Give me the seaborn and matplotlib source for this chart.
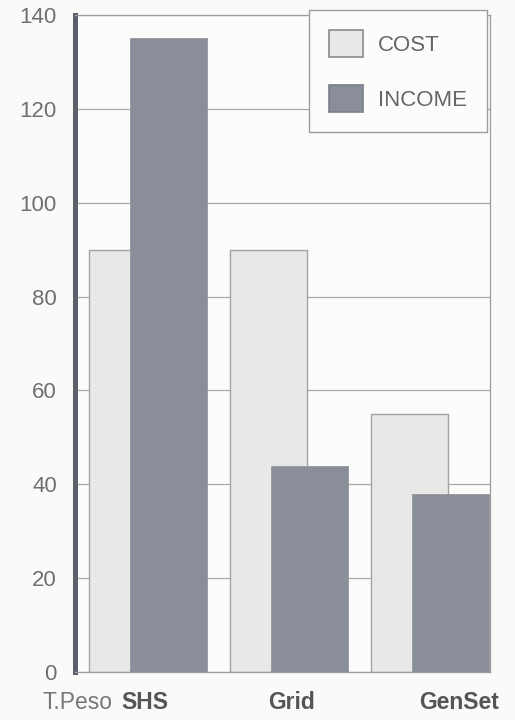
import matplotlib
matplotlib.use("Agg")
import matplotlib.pyplot as plt
import seaborn as sns
import numpy as np
import pandas as pd
from matplotlib.patches import Patch
from matplotlib.transforms import blended_transform_factory

# ---- data ----
categories = ["SHS", "Grid", "GenSet"]
category_prefix = ["T.Peso", "", ""]
cost = [90, 90, 55]
income = [135, 44, 38]
series_names = ["COST", "INCOME"]
y_ticks = [0, 20, 40, 60, 80, 100, 120, 140]

# ---- layout / style ----
cost_offset, income_offset, bar_width = -0.145, 0.145, 0.55
label_x = [-0.02, 1.02, 2.205]
prefix_right_x = -0.255
cost_color, cost_edge = "#e8e8e7", "#a3a3a3"
income_color = "#8a8e99"

sns.set_theme(style="white")
plt.rcParams['font.family'] = ['Liberation Sans', 'DejaVu Sans']

fig = plt.figure(figsize=(5.15, 7.2), dpi=100)
fig.patch.set_facecolor('#fafaf8')
ax = fig.add_axes([75/515, 1-672/720, (490-75)/515, (672-15)/720])
ax.set_facecolor('#fcfcfb')

idx = np.arange(len(categories))
dfc = pd.DataFrame({"pos": idx + cost_offset, "value": cost})
dfi = pd.DataFrame({"pos": idx + income_offset, "value": income})

sns.barplot(data=dfc, x="pos", y="value", native_scale=True, orient="x",
            width=bar_width, color=cost_color, saturation=1, errorbar=None,
            edgecolor=cost_edge, linewidth=1.0, ax=ax, zorder=2)
sns.barplot(data=dfi, x="pos", y="value", native_scale=True, orient="x",
            width=bar_width, color=income_color, saturation=1, errorbar=None,
            edgecolor=income_color, linewidth=0.5, ax=ax, zorder=3)

ax.set_xlim(-0.518, 2.426)
ax.set_ylim(0, 140)
ax.set_yticks(y_ticks)
ax.set_xticks([])
ax.set_xlabel("")
ax.set_ylabel("")
ax.yaxis.grid(True, color="#a9a9a9", linewidth=0.9)
ax.set_axisbelow(True)
ax.tick_params(axis="y", length=0, pad=13, labelsize=16, labelcolor="#707070")

for side in ["top", "right", "bottom"]:
    ax.spines[side].set_color("#9c9c9c")
    ax.spines[side].set_linewidth(0.9)
ax.spines["left"].set_color("#5b606b")
ax.spines["left"].set_linewidth(3.6)

trans = blended_transform_factory(ax.transData, fig.transFigure)
for x, name, pre in zip(label_x, categories, category_prefix):
    ax.text(x, 0.024, name, transform=trans, ha="center", va="center",
            fontsize=16.5, fontweight="bold", color="#555555")
    if pre:
        ax.text(prefix_right_x, 0.024, pre, transform=trans, ha="right",
                va="center", fontsize=16.5, color="#777777")

handles = [Patch(facecolor=cost_color, edgecolor="#8a8a8a", linewidth=1.2),
           Patch(facecolor=income_color, edgecolor="#7a7e88", linewidth=1.2)]
leg = ax.legend(handles, series_names, loc="upper right",
                bbox_to_anchor=(0.993, 1.0076), borderaxespad=0, fontsize=16,
                frameon=True, fancybox=False, edgecolor="#9c9c9c",
                facecolor="#fcfcfb", framealpha=1,
                handlelength=1.5, handleheight=1.5, labelspacing=1.25,
                borderpad=0.9, handletextpad=0.7, labelcolor="#666666")
leg.get_frame().set_linewidth(1.0)
leg.set_zorder(5)

fig.savefig("out.png", dpi=100, facecolor=fig.get_facecolor())
